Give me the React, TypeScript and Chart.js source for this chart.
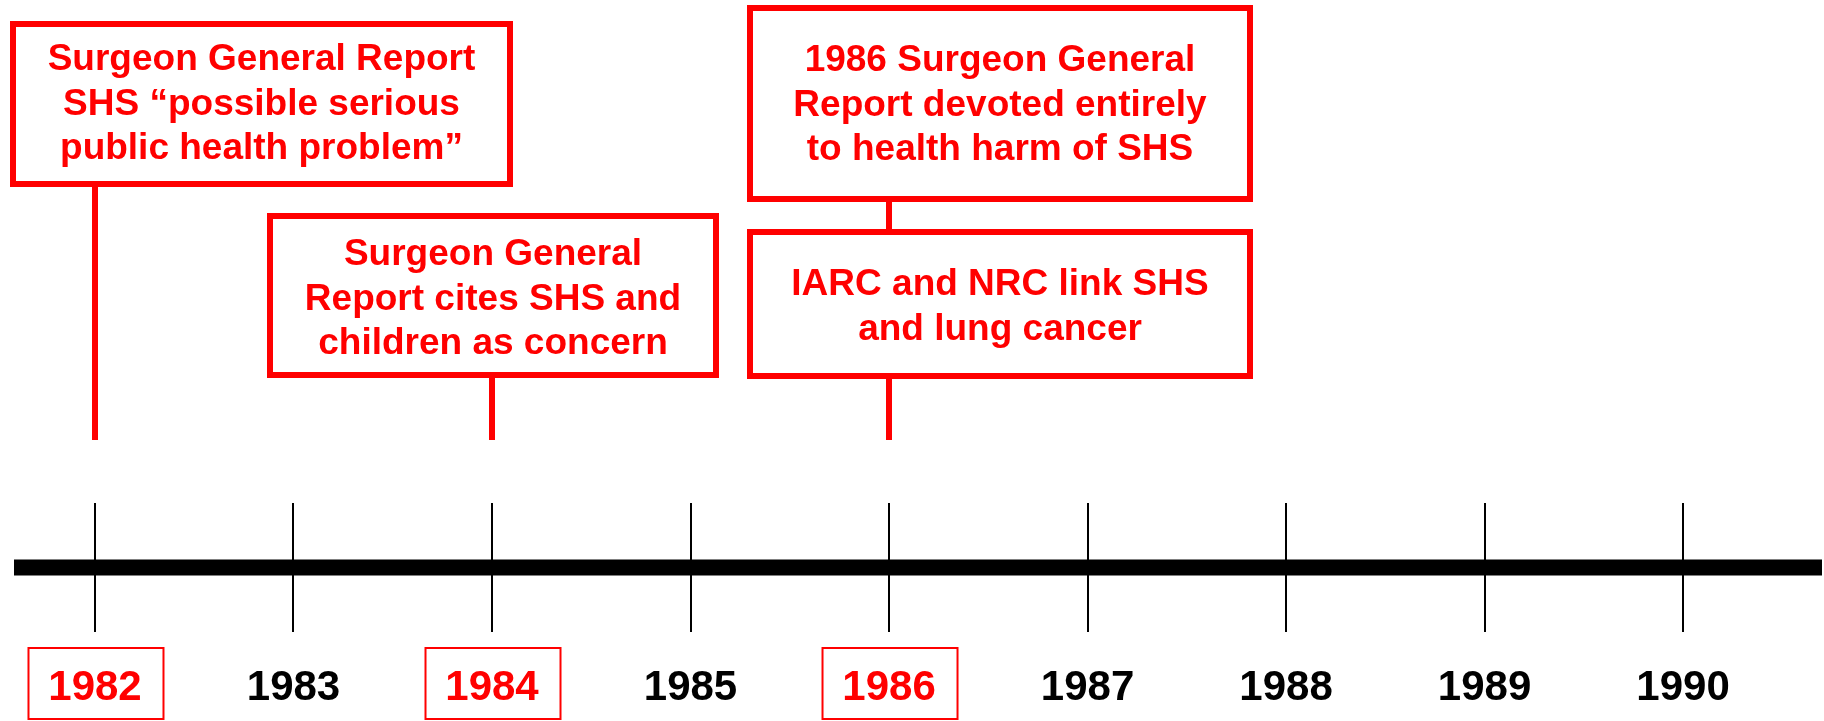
import React, { useEffect, useRef } from "react";
import { Chart, registerables } from "chart.js";

Chart.register(...registerables);

// ---------- data ----------
const years = [1982, 1983, 1984, 1985, 1986, 1987, 1988, 1989, 1990];
const timelineStart = 1981.592;
const timelineEnd = 1990.7;
const highlightedYears = [1982, 1984, 1986];
const eventYears = [1982, 1984, 1986, 1986];
const eventTexts = [
  ["Surgeon General Report", "SHS \u201cpossible serious", "public health problem\u201d"],
  ["Surgeon General", "Report cites SHS and", "children as concern"],
  ["1986 Surgeon General", "Report devoted entirely", "to health harm of SHS"],
  ["IARC and NRC link SHS", "and lung cancer"],
];

// ---------- layout / style ----------
const RED = "#ff0000";
const FONT = "'Liberation Sans', Arial, Helvetica, sans-serif";
const EVENT_BOXES = [
  { left: 10, right: 513, top: 21, bottom: 187, firstBaseline: 70 },
  { left: 267, right: 719, top: 213, bottom: 378, firstBaseline: 265 },
  { left: 747, right: 1253, top: 5, bottom: 202, firstBaseline: 71 },
  { left: 747, right: 1253, top: 229, bottom: 379, firstBaseline: 295 },
];
const LINE_STEP = 44.5;
const STEM_END = 440;
const BOX_BORDER = 6;

const annotationPlugin = {
  id: "timelineAnnotations",
  afterDraw(chart: any) {
    const ctx = chart.ctx as CanvasRenderingContext2D;
    const xs = chart.scales.x;
    ctx.save();
    // boxes around highlighted year labels
    ctx.strokeStyle = RED;
    ctx.lineWidth = 2;
    highlightedYears.forEach((yr) => {
      const px = xs.getPixelForValue(yr);
      ctx.strokeRect(px - 66.5, 648, 135, 71);
    });
    // event boxes with stems
    eventYears.forEach((yr, i) => {
      const b = EVENT_BOXES[i];
      const px = Math.round(xs.getPixelForValue(yr));
      ctx.fillStyle = RED;
      ctx.fillRect(px - BOX_BORDER / 2, b.bottom - 2, BOX_BORDER, STEM_END - b.bottom + 2);
      const w = b.right - b.left;
      const h = b.bottom - b.top;
      ctx.fillStyle = "#ffffff";
      ctx.fillRect(b.left, b.top, w, h);
      ctx.strokeStyle = RED;
      ctx.lineWidth = BOX_BORDER;
      ctx.strokeRect(b.left + BOX_BORDER / 2, b.top + BOX_BORDER / 2, w - BOX_BORDER, h - BOX_BORDER);
      ctx.fillStyle = RED;
      ctx.font = `bold 37px ${FONT}`;
      ctx.textAlign = "center";
      ctx.textBaseline = "alphabetic";
      const cx = (b.left + b.right) / 2;
      eventTexts[i].forEach((line, j) => {
        ctx.fillText(line, cx, b.firstBaseline + j * LINE_STEP);
      });
    });
    ctx.restore();
  },
};

export default function App() {
  const ref = useRef<HTMLCanvasElement>(null);
  useEffect(() => {
    if (!ref.current) return;
    const chart = new Chart(ref.current, {
      type: "line",
      data: {
        datasets: [
          {
            data: [
              { x: timelineStart, y: 0.5 },
              { x: timelineEnd, y: 0.5 },
            ],
            borderColor: "#000000",
            borderWidth: 16,
            pointRadius: 0,
            fill: false,
          },
        ],
      },
      options: {
        animation: false,
        responsive: false,
        devicePixelRatio: 1,
        layout: { padding: { top: 503, bottom: -23.4, left: 14, right: 2 } },
        plugins: { legend: { display: false }, tooltip: { enabled: false } },
        scales: {
          x: {
            type: "linear",
            min: timelineStart,
            max: timelineEnd,
            position: "bottom",
            border: { display: false },
            grid: {
              color: "#000000",
              lineWidth: 2,
              drawTicks: false,
              drawOnChartArea: true,
            },
            afterBuildTicks: (scale: any) => {
              scale.ticks = years.map((v) => ({ value: v }));
            },
            ticks: {
              autoSkip: false,
              includeBounds: false,
              maxRotation: 0,
              padding: 31,
              font: { family: FONT, size: 42, weight: "bold" },
              color: (c: any) => (highlightedYears.includes(c.tick?.value) ? RED : "#000000"),
              callback: (v: any) => String(v),
            },
          },
          y: { type: "linear", min: 0, max: 1, display: false },
        },
      },
      plugins: [annotationPlugin],
    });
    return () => chart.destroy();
  }, []);
  return (
    <div style={{ position: "fixed", left: 0, top: 0, width: 1824, height: 721, background: "#fff", overflow: "hidden" }}>
      <canvas ref={ref} width={1824} height={721} style={{ display: "block" }} />
    </div>
  );
}
